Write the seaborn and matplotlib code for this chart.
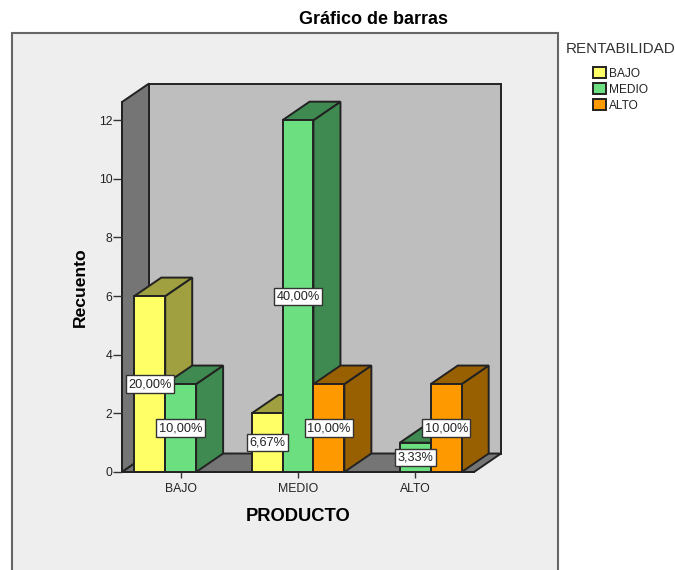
import pandas as pd
import seaborn as sb
import matplotlib.pyplot as plt
from matplotlib.patches import Polygon, Rectangle

productos = ['BAJO', 'BAJO', 'MEDIO', 'MEDIO', 'MEDIO', 'ALTO', 'ALTO']
rentabilidad = ['BAJO', 'MEDIO', 'BAJO', 'MEDIO', 'ALTO', 'MEDIO', 'ALTO']
recuento = [6, 3, 2, 12, 3, 1, 3]
porcentaje = ['20,00%', '10,00%', '6,67%', '40,00%', '10,00%', '3,33%', '10,00%']

hue_order = ['BAJO', 'MEDIO', 'ALTO']
palette = {'BAJO': '#ffff66', 'MEDIO': '#6ce080', 'ALTO': '#ff9900'}
shade = {'BAJO': '#a0a040', 'MEDIO': '#3f8a50', 'ALTO': '#996000'}

W, H = 675, 570
edge = '#222222'
lw = 1.4

plt.rcParams['font.family'] = ['Liberation Sans', 'DejaVu Sans']

fig = plt.figure(figsize=(W / 100, H / 100), dpi=100)
fig.patch.set_facecolor('white')

# outer frame runs off the bottom of the picture
fig.add_artist(Rectangle((12 / W, -0.05), (558 - 12) / W, (H - 33) / H + 0.05,
                         transform=fig.transFigure, facecolor='#eeeeee',
                         edgecolor='#666666', linewidth=1.5, zorder=-1))

ax = fig.add_axes([122 / W, 1 - 472 / H, (474 - 122) / W, (472 - 102) / H])
ax.patch.set_alpha(0)

data = pd.DataFrame({'producto': productos, 'rentabilidad': rentabilidad, 'y': recuento})
sb.barplot(x='producto', y='y', hue='rentabilidad', data=data,
           order=['BAJO', 'MEDIO', 'ALTO'], hue_order=hue_order, palette=palette,
           width=0.79, saturation=1, edgecolor=edge, linewidth=lw, ax=ax)

ax.set_xlim(-0.5, 2.5)
ax.set_ylim(0, 12.62)

# depth of the fake 3D box in data units (27 px, 18.5 px)
dx = 27 / 117.3
dy = 18.5 / 29.33
x0, x1 = ax.get_xlim()
y0, y1 = ax.get_ylim()

box = dict(edgecolor=edge, linewidth=lw, clip_on=False)
ax.add_patch(Polygon([(x0 + dx, y0 + dy), (x1 + dx, y0 + dy), (x1 + dx, y1 + dy), (x0 + dx, y1 + dy)],
                     facecolor='#bebebe', zorder=0.5, **box))
ax.add_patch(Polygon([(x0, y0), (x0 + dx, y0 + dy), (x0 + dx, y1 + dy), (x0, y1)],
                     facecolor='#757575', zorder=0.6, **box))
ax.add_patch(Polygon([(x0, y0), (x1, y0), (x1 + dx, y0 + dy), (x0 + dx, y0 + dy)],
                     facecolor='#757575', zorder=0.6, **box))

# sides and tops of the bars, left to right so that later bars cover earlier ones
bars = []
for container, name in zip(ax.containers, hue_order):
    for patch in container:
        if patch.get_height() > 0:
            bars.append((patch, name))
        else:
            patch.set_visible(False)
bars.sort(key=lambda b: b[0].get_x())

for i, (patch, name) in enumerate(bars):
    x, w, h = patch.get_x(), patch.get_width(), patch.get_height()
    z = 2 + i
    patch.set_zorder(z + 0.5)
    ax.add_patch(Polygon([(x + w, 0), (x + w + dx, dy), (x + w + dx, h + dy), (x + w, h)],
                         facecolor=shade[name], edgecolor=edge, linewidth=lw, zorder=z, clip_on=False))
    ax.add_patch(Polygon([(x, h), (x + w, h), (x + w + dx, h + dy), (x + dx, h + dy)],
                         facecolor=shade[name], edgecolor=edge, linewidth=lw, zorder=z, clip_on=False))

# percentage boxes sit on top of everything
order = sorted(range(len(recuento)), key=lambda k: (['BAJO', 'MEDIO', 'ALTO'].index(productos[k]),
                                                    hue_order.index(rentabilidad[k])))
for k, (patch, name) in zip(order, bars):
    xc = patch.get_x() + patch.get_width() / 2
    ax.text(xc, patch.get_height() / 2, porcentaje[k], ha='center', va='center',
            fontsize=9.2, color='#222222', zorder=50,
            bbox=dict(boxstyle='square,pad=0.2', facecolor='white', edgecolor='#333333', linewidth=1))

for s in ['top', 'right']:
    ax.spines[s].set_visible(False)
for s in ['left', 'bottom']:
    ax.spines[s].set_color(edge)
    ax.spines[s].set_linewidth(lw)
    ax.spines[s].set_zorder(1.5)

ax.set_yticks([0, 2, 4, 6, 8, 10, 12])
ax.tick_params(axis='y', labelsize=8.8, length=6.5, width=1, color='#333333', labelcolor='#222222', pad=0.5)
ax.tick_params(axis='x', labelsize=8.8, length=4.5, width=1, color='#333333', labelcolor='#222222', pad=3.5)

ax.set_xlabel('PRODUCTO', fontsize=13.2, fontweight='bold', labelpad=9)
ax.set_ylabel('Recuento', fontsize=12.6, fontweight='bold')
ax.yaxis.set_label_coords((88 - 122) / (474 - 122), (472 - 287) / (472 - 102))

fig.suptitle('Gráfico de barras', fontsize=13, fontweight='bold', x=373 / W, y=1 - 19.5 / H, va='center')

handles, labels = ax.get_legend_handles_labels()
leg = ax.legend(handles, labels, title='RENTABILIDAD', loc='upper left',
                bbox_to_anchor=(566 / W, 1 - 42 / H), bbox_transform=fig.transFigure,
                frameon=False, fontsize=8.6, title_fontsize=11, borderpad=0, borderaxespad=0,
                handlelength=1.1, handleheight=1.0, handletextpad=0.25, labelspacing=0.3)
for t in leg.get_texts():
    t.set_color('#222222')
leg.get_title().set_color('#333333')
leg._legend_box.sep = 8

fig.savefig('out.png', dpi=100)
plt.close()
